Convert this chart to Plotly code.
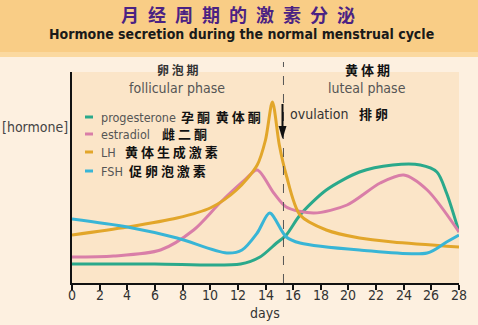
import plotly.graph_objects as go

# ---- data (values on an arbitrary concentration scale) ----
prog_days = [0, 6, 12.2, 13.6, 14.8, 15.5, 16.5, 18.4, 20.8, 23.2, 25.2, 26.4, 27.1, 28]
prog_vals = [19, 19, 19, 26, 40, 48, 68, 93, 111, 118, 118, 111, 90, 51]

estr_days = [0, 3, 6.4, 8.8, 10.7, 12.5, 13.4, 14.6, 15.5, 17.5, 19.9, 22.3, 24, 25.7, 28]
estr_vals = [26, 27, 33, 53, 80, 103, 113, 90, 76, 70, 78, 100, 108, 93, 51]

lh_days = [0, 4, 7.6, 10, 11.9, 13.4, 14.0, 14.5, 15.0, 15.5, 16.5, 18.4, 20.8, 23.2, 28]
lh_vals = [48, 56, 65, 75, 93, 118, 143, 181, 138, 108, 68, 53, 45, 41, 36]

fsh_days = [0, 4, 7.6, 11.2, 12.3, 13.4, 14.3, 15.5, 16.5, 20.8, 25.7, 27.1, 28]
fsh_vals = [64, 56, 45, 30, 33, 50, 70, 46, 40, 33, 30, 41, 48]

x_ticks = list(range(0, 29, 2))
x_tick_labels = [str(t) for t in x_ticks]
ovulation_day = 15.3

series = [
    ("progesterone", "孕 酮  黄 体 酮", prog_days, prog_vals, "#2aa98b"),
    ("estradiol", "雌 二 酮", estr_days, estr_vals, "#d97ea8"),
    ("LH", "黄 体 生 成 激 素", lh_days, lh_vals, "#e2a62a"),
    ("FSH", "促 卵 泡 激 素", fsh_days, fsh_vals, "#38b5d6"),
]

W, H = 478, 325
ML, MR, MT, MB = 72, 19, 72, 42

fig = go.Figure()
for name, cn, xs, ys, col in series:
    fig.add_trace(go.Scatter(x=xs, y=ys, mode="lines", name=name,
                             line=dict(color=col, width=3, shape="spline", smoothing=0.8),
                             showlegend=False, hoverinfo="skip"))

def px_to_paper_y(py):
    return (H - MB - py) / (H - MT - MB)

def px_to_paper_x(px):
    return (px - ML) / (W - ML - MR)

shapes = []
# top banner
shapes.append(dict(type="rect", xref="paper", yref="paper",
                   x0=px_to_paper_x(0), x1=px_to_paper_x(W), y0=px_to_paper_y(57), y1=px_to_paper_y(0),
                   fillcolor="#f9cd86", line=dict(width=0), layer="below"))
shapes.append(dict(type="rect", xref="paper", yref="paper",
                   x0=px_to_paper_x(0), x1=px_to_paper_x(W), y0=px_to_paper_y(57), y1=px_to_paper_y(52),
                   fillcolor="#fbd9a0", line=dict(width=0), layer="below"))
# dashed ovulation line
shapes.append(dict(type="line", xref="x", yref="paper", x0=ovulation_day, x1=ovulation_day,
                   y0=0, y1=px_to_paper_y(62), line=dict(color="#555555", width=1, dash="dash")))
# ovulation arrow
shapes.append(dict(type="line", xref="paper", yref="paper",
                   x0=px_to_paper_x(282.5), x1=px_to_paper_x(282.5),
                   y0=px_to_paper_y(104), y1=px_to_paper_y(130), line=dict(color="#111111", width=2)))
shapes.append(dict(type="path", xref="paper", yref="paper",
                   path="M %f %f L %f %f L %f %f Z" % (
                       px_to_paper_x(278.5), px_to_paper_y(126),
                       px_to_paper_x(286.5), px_to_paper_y(126),
                       px_to_paper_x(282.5), px_to_paper_y(139)),
                   fillcolor="#111111", line=dict(width=0)))

annotations = []
COND = "DejaVu Sans Condensed, Noto Sans, sans-serif"
def txt(x, y, s, size, color, anchor="left", family=COND):
    annotations.append(dict(xref="paper", yref="paper", x=px_to_paper_x(x), y=px_to_paper_y(y),
                            text=s, showarrow=False, xanchor=anchor, yanchor="middle",
                            font=dict(size=size, color=color, family=family)))

cjk = "Noto Sans CJK SC, sans-serif"
EN = "\u2002"
txt(238, 14, "<b>" + EN.join("月经周期的激素分泌") + "</b>", 18, "#4b2283", "center", cjk)
txt(241, 34, "<b>Hormone secretion during the normal menstrual cycle</b>", 14, "#1a1a1a", "center")
txt(0, 127, "[hormone]", 14, "#444444")
txt(177, 70, "<b>卵 泡 期</b>", 12, "#333333", "center", cjk)
txt(177, 88, "follicular phase", 14, "#555555", "center")
txt(367, 70, "<b>黄 体 期</b>", 13, "#111111", "center", cjk)
txt(367, 88, "luteal phase", 14, "#555555", "center")
txt(288, 114, "ovulation", 14, "#333333")
txt(357, 114, "<b>排 卵</b>", 13, "#111111", "left", cjk)

leg_y = [117, 134, 152, 171]
cn_x = [179, 160, 123, 127]
for (name, cn, xs, ys, col), ly, cx in zip(series, leg_y, cn_x):
    shapes.append(dict(type="line", xref="paper", yref="paper",
                       x0=px_to_paper_x(85), x1=px_to_paper_x(93), y0=px_to_paper_y(ly), y1=px_to_paper_y(ly),
                       line=dict(color=col, width=3)))
    txt(99, ly, name, 12.5, "#555555")
    txt(cx, ly - 1, "<b>" + cn + "</b>", 13, "#111111", "left", cjk)

# tick labels placed at their data positions
for t, lab in zip(x_ticks, x_tick_labels):
    annotations.append(dict(xref="x", yref="paper", x=t, y=px_to_paper_y(295), text=lab,
                            showarrow=False, xanchor="center", yanchor="middle",
                            font=dict(size=14, color="#333333", family=COND)))

txt(265, 313, "days", 14, "#333333", "center")

fig.update_layout(
    width=W, height=H,
    margin=dict(l=ML, r=MR, t=MT, b=MB),
    paper_bgcolor="#fdf0e0",
    plot_bgcolor="#fbe5c8",
    shapes=shapes, annotations=annotations,
    xaxis=dict(range=[0, 28], tickvals=x_ticks, showticklabels=False,
               showgrid=False, zeroline=False, showline=True, linecolor="#111111", linewidth=2,
               ticks="outside", ticklen=5, tickwidth=2, tickcolor="#111111"),
    yaxis=dict(range=[0, 211], showgrid=False, zeroline=False, showline=True, linecolor="#111111",
               linewidth=2, showticklabels=False, ticks=""),
)

fig.write_html("out.html")
